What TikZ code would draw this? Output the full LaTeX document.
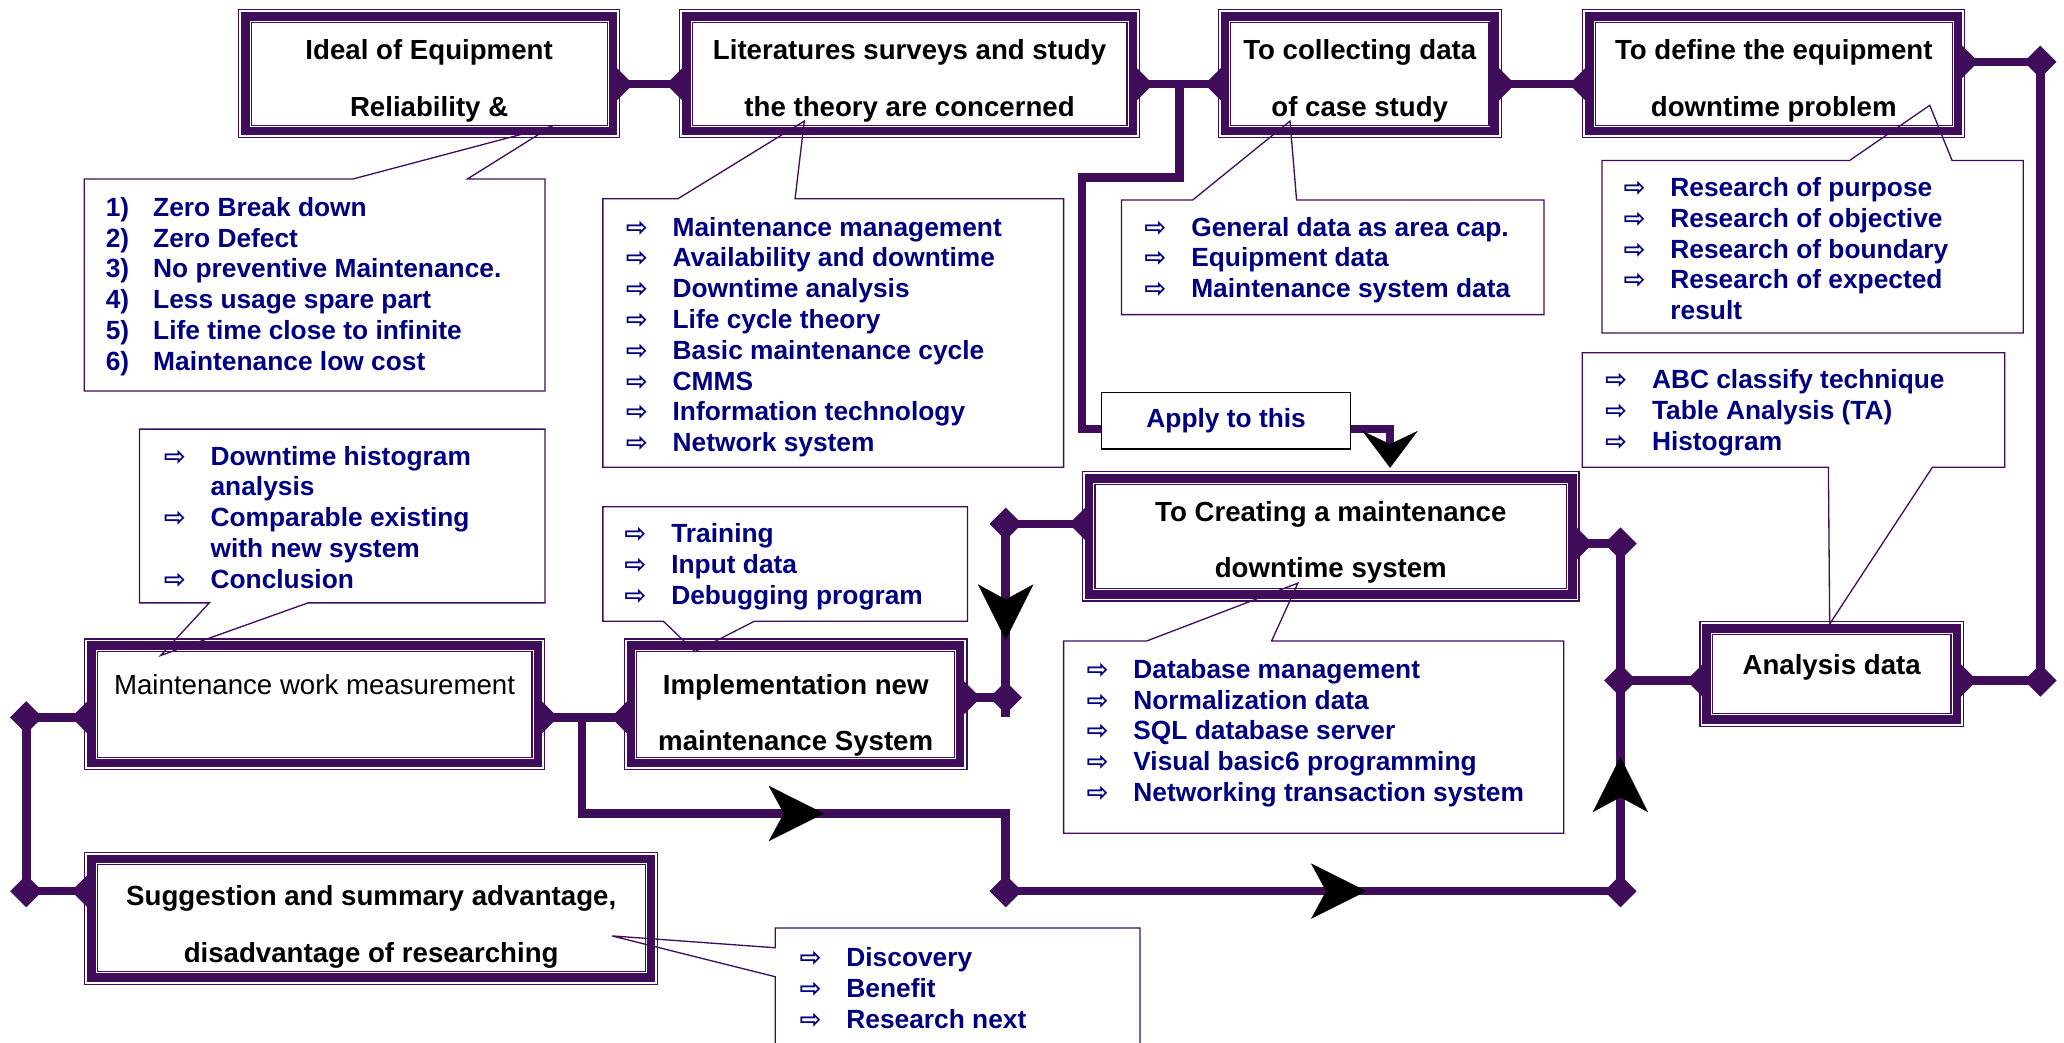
\documentclass[tikz,border=0pt]{standalone}
\usepackage{fontspec}
\setmainfont{Liberation Sans}
\newfontfamily\arrowfont{DejaVu Sans}
\usetikzlibrary{shapes.geometric,arrows.meta,decorations.markings}

\definecolor{plum}{RGB}{63,13,90}
\definecolor{ink}{RGB}{0,0,128}

\pgfdeclarelayer{back}
\pgfsetlayers{back,main}

\newcommand{\itm}[1]{\makebox[17.8pt][l]{\arrowfont\fontsize{10}{10}\selectfont ⇨}#1}
\newcommand{\nitem}[2]{\makebox[18pt][l]{#1}#2}

\tikzset{bigtip/.tip={Stealth[length=21pt,width=21pt,inset=5.7pt]}}

\begin{document}
\begin{tikzpicture}[x=0.5pt,y=-0.5pt,
  stage/.style={draw=plum, line width=3.2pt, fill=white, outer sep=1.55pt, inner sep=0pt, align=center, text height=32.5pt, text depth=0pt, font=\bfseries\fontsize{10.5}{21.5}\selectfont},
  link/.style={draw=plum, line width=3.2pt},
  joint/.style={diamond, fill=plum, minimum width=12.5pt, minimum height=12.5pt, inner sep=0pt},
  note/.style={draw=plum, line width=0.5pt},
  notetext/.style={anchor=north west, inner sep=0pt, align=left, text=ink, font=\bfseries\fontsize{10}{11.7}\selectfont},
  midtip/.style={postaction={decorate}, decoration={markings, mark=at position #1 with {\arrow[black,line width=0.1pt]{bigtip}}}}]
\useasboundingbox (0,0) rectangle (1568,792);

% stages
\node[stage, minimum width=139.5pt, minimum height=43.5pt] (ideal) at (326,56) {Ideal of Equipment\\Reliability \&};
\node[stage, minimum width=169.5pt, minimum height=43.5pt] (survey) at (691,56) {Literatures surveys and study\\the theory are concerned};
\node[stage, minimum width=102.5pt, minimum height=43.5pt] (collect) at (1033,56) {To collecting data\\of case study};
\node[stage, minimum width=140pt, minimum height=43.5pt] (define) at (1347.5,56) {To define the equipment\\downtime problem};
\node[stage, minimum width=183.5pt, minimum height=44pt, text height=31.5pt] (create) at (1011,407.5) {To Creating a maintenance\\downtime system};
\node[stage, minimum width=95pt, minimum height=34.5pt, text height=7.5pt, text depth=7pt] (analysis) at (1391.5,512) {Analysis data};
\node[stage, minimum width=169.5pt, minimum height=44.5pt, font=\fontsize{10.5}{12}\selectfont, text height=7.5pt, text depth=15pt] (measure) at (239,535) {Maintenance work measurement};
\node[stage, minimum width=125pt, minimum height=44.5pt, text height=35.5pt] (implement) at (604.5,535) {Implementation new\\maintenance System};
\node[stage, minimum width=212.5pt, minimum height=45pt, text height=33.5pt] (suggest) at (282,697.5) {Suggestion and summary advantage,\\disadvantage of researching};

\foreach \b in {ideal,survey,collect,define,create,analysis,measure,implement,suggest}{
  \draw[plum, line width=0.45pt] ([shift={(-1pt,1pt)}]\b.north west) rectangle ([shift={(1pt,-1pt)}]\b.south east);
  \draw[plum, line width=0.45pt] ([shift={(3.7pt,-3.7pt)}]\b.north west) rectangle ([shift={(-3.7pt,3.7pt)}]\b.south east);
}

\node[draw=black, line width=0.5pt, fill=white, minimum width=94.5pt, minimum height=21.5pt, inner sep=0pt, text=ink, font=\bfseries\fontsize{10}{12}\selectfont] (apply) at (931.5,319.5) {Apply to this};

% connectors
\begin{pgfonlayer}{back}
\coordinate (sc) at (896,64);
\coordinate (bend) at (822,135);
\coordinate (ne) at (1550,47);
\coordinate (se) at (1550,517);
\coordinate (ej) at (1231,413);
\coordinate (aj) at (1231,517);
\coordinate (bj) at (1231,677);
\coordinate (bl) at (764,677);
\coordinate (turn) at (764,618);
\coordinate (cj) at (764,398);
\coordinate (hj) at (764,530);
\coordinate (vend) at (764,545);
\coordinate (gh) at (442,545);
\coordinate (lt) at (20,545);
\coordinate (lb) at (20,677);

\draw[link] (ideal.east |- sc) -- (survey.west |- sc);
\draw[link] (survey.east |- sc) -- (collect.west |- sc);
\draw[link] (collect.east |- sc) -- (define.west |- sc);
\draw[link] (sc) |- (bend) |- ([yshift=-3.25pt]apply.west);
\draw[link, -{Stealth[length=14pt,width=21pt,inset=5pt,color=black,line width=0.1pt]}] ([yshift=-3.25pt]apply.east) -| ([xshift=22.5pt,yshift=2.5pt]create.north);
\draw[link] (define.east |- ne) -- (ne) -- (se) -- (analysis.east |- se);
\draw[link] (analysis.west |- aj) -- (aj);
\draw[link] (create.east |- ej) -- (ej);
\draw[link, postaction={decorate}, decoration={markings,
    mark=at position 128.5pt with {\arrow[black,line width=0.1pt]{bigtip}},
    mark=at position 364pt with {\arrow[black,line width=0.1pt]{bigtip}},
    mark=at position 511.5pt with {\arrow[black,line width=0.1pt]{bigtip}}}]
  (gh) |- (turn) -- (bl) -- (bj) -- (ej);
\draw[link] (create.west |- cj) -- (cj);
\draw[link, midtip=44pt] (cj) -- (vend);
\draw[link] (implement.east |- hj) -- (hj);
\draw[link] (measure.east |- gh) -- (implement.west |- gh);
\draw[link] (measure.west |- lt) -- (lt) -- (lb) -- (suggest.west |- lb);

\foreach \p in {ne,se,aj,ej,bj,bl,cj,hj,lt,lb}
  \node[joint] at (\p) {};
\foreach \b/\c in {ideal.east/sc, survey.west/sc, survey.east/sc, collect.west/sc, collect.east/sc, define.west/sc, define.east/ne, analysis.east/se, analysis.west/aj, create.east/ej, create.west/cj, implement.east/hj, measure.east/gh, implement.west/gh, measure.west/lt, suggest.west/lb}
  \node[joint] at (\b |- \c) {};
\end{pgfonlayer}

% callouts
\draw[note] (64,136) -- (268,136) -- (419,96) -- (355,136) -- (414,136) -- (414,297) -- (64,297) -- cycle;
\draw[note] (458,151) -- (515,151) -- (611,92) -- (604,151) -- (808,151) -- (808,355) -- (458,355) -- cycle;
\draw[note] (852,152) -- (906,152) -- (980,92) -- (985,152) -- (1173,152) -- (1173,239) -- (852,239) -- cycle;
\draw[note] (1217,122) -- (1405,122) -- (1466,80) -- (1483,122) -- (1537,122) -- (1537,253) -- (1217,253) -- cycle;
\draw[note] (1202,268) -- (1523,268) -- (1523,355) -- (1468,355) -- (1390,474) -- (1389,355) -- (1202,355) -- cycle;
\draw[note] (808,487) -- (871,487) -- (986,443) -- (966,487) -- (1188,487) -- (1188,633) -- (808,633) -- cycle;
\draw[note] (458,385) -- (735,385) -- (735,472) -- (573,472) -- (528,495) -- (504,472) -- (458,472) -- cycle;
\draw[note] (106,326) -- (414,326) -- (414,458) -- (234,458) -- (122,498) -- (159,458) -- (106,458) -- cycle;
\draw[note] (589,800) -- (589,742) -- (465,711) -- (589,720) -- (589,705) -- (866,705) -- (866,800);

\node[notetext] (goals) at (80,149.4) {\nitem{1)}{Zero Break down}\\\nitem{2)}{Zero Defect}\\\nitem{3)}{No preventive Maintenance.}\\\nitem{4)}{Less usage spare part}\\\nitem{5)}{Life time close to infinite}\\\nitem{6)}{Maintenance low cost}};
\node[notetext] (theory) at (475,164.4) {\itm{Maintenance management}\\\itm{Availability and downtime}\\\itm{Downtime analysis}\\\itm{Life cycle theory}\\\itm{Basic maintenance cycle}\\\itm{CMMS}\\\itm{Information technology}\\\itm{Network system}};
\node[notetext] (casedata) at (869,164.4) {\itm{General data as area cap.}\\\itm{Equipment data}\\\itm{Maintenance system data}};
\node[notetext] (problem) at (1233,134.4) {\itm{Research of purpose}\\\itm{Research of objective}\\\itm{Research of boundary}\\\itm{Research of expected}\\\hspace*{17.8pt}result};
\node[notetext] (tools) at (1219,280.4) {\itm{ABC classify technique}\\\itm{Table Analysis (TA)}\\\itm{Histogram}};
\node[notetext] (system) at (825,500.4) {\itm{Database management}\\\itm{Normalization data}\\\itm{SQL database server}\\\itm{Visual basic6 programming}\\\itm{Networking transaction system}};
\node[notetext] (rollout) at (474,397.4) {\itm{Training}\\\itm{Input data}\\\itm{Debugging program}};
\node[notetext] (review) at (124,338.4) {\itm{Downtime histogram}\\\hspace*{17.8pt}analysis\\\itm{Comparable existing}\\\hspace*{17.8pt}with new system\\\itm{Conclusion}};
\node[notetext] (outcome) at (607,719.4) {\itm{Discovery}\\\itm{Benefit}\\\itm{Research next}};
\end{tikzpicture}
\end{document}
